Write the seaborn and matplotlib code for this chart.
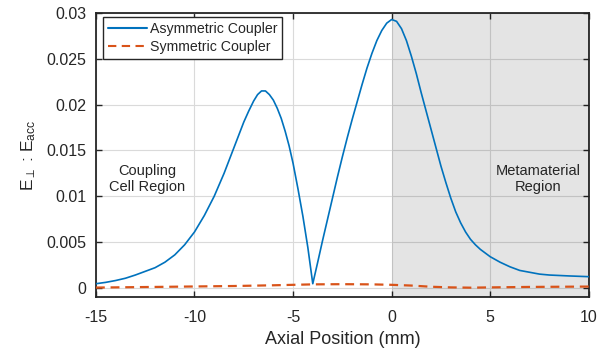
import numpy as np
import pandas as pd
import matplotlib
matplotlib.use("Agg")
import matplotlib.pyplot as plt
import seaborn as sns

# ---- data ----
asym_x = [-15, -14.5, -14, -13.5, -13, -12.5, -12, -11.5, -11, -10.5, -10, -9.5, -9, -8.5,
          -8, -7.5, -7.25, -7.0, -6.8, -6.6, -6.4, -6.2, -6.0, -5.8, -5.6, -5.4, -5.2, -5.0,
          -4.75, -4.5, -4.25, -4.0,
          -3.75, -3.5, -3.25, -3.0, -2.75, -2.5, -2.25, -2.0, -1.75, -1.5, -1.25, -1.0,
          -0.75, -0.5, -0.25, 0.0,
          0.25, 0.5, 0.75, 1.0, 1.25, 1.5, 1.75, 2.0, 2.25, 2.5, 2.75, 3.0, 3.25, 3.5, 3.75,
          4.0, 4.25, 4.5, 5.0, 5.5, 6.0, 6.5, 7.0, 7.5, 8.0, 9.0, 10.0]
asym_y = [0.00045, 0.0006, 0.0008, 0.00105, 0.0014, 0.0018, 0.0022, 0.0028, 0.0036, 0.0047,
          0.0061, 0.0079, 0.0100, 0.0125,
          0.0153, 0.0181, 0.0193, 0.0204, 0.0211, 0.0215, 0.0215, 0.0211, 0.0205, 0.0196,
          0.0185, 0.0171, 0.0155, 0.0136,
          0.0108, 0.0078, 0.0044, 0.00045,
          0.0028, 0.0052, 0.0075, 0.0098, 0.0121, 0.0143, 0.0164, 0.0184, 0.0203, 0.0222,
          0.0240, 0.0256,
          0.0270, 0.0281, 0.0289, 0.0293,
          0.0291, 0.0283, 0.0270, 0.0253, 0.0234, 0.0213, 0.0193, 0.0173, 0.0153, 0.0133,
          0.0115, 0.0098, 0.0083, 0.0071, 0.0061,
          0.0053, 0.0047, 0.0042, 0.0034, 0.0028, 0.0023, 0.0019, 0.0017, 0.0015, 0.0014,
          0.0013, 0.00122]

sym_x = [-15, -12, -10, -8, -6, -4, -2.5, -1, 0, 1, 2, 3, 4, 5, 7, 10]
sym_y = [0.00003, 0.0001, 0.00015, 0.0002, 0.00028, 0.00038, 0.0004, 0.00038, 0.00033,
         0.00025, 0.00012, 0.00005, 0.00002, 0.00005, 0.0001, 0.00014]

series_names = ["Asymmetric Coupler", "Symmetric Coupler"]
x_ticks = [-15, -10, -5, 0, 5, 10]
y_ticks = [0, 0.005, 0.01, 0.015, 0.02, 0.025, 0.03]
y_tick_labels = ["0", "0.005", "0.01", "0.015", "0.02", "0.025", "0.03"]
region_left = "Coupling\nCell Region"
region_right = "Metamaterial\nRegion"

df = pd.concat([
    pd.DataFrame({"x": asym_x, "y": asym_y, "series": series_names[0]}),
    pd.DataFrame({"x": sym_x, "y": sym_y, "series": series_names[1]}),
], ignore_index=True)

sns.set_style("ticks")
plt.rcParams["font.family"] = ["Liberation Sans", "DejaVu Sans"]
plt.rcParams["mathtext.fontset"] = "custom"
plt.rcParams["mathtext.rm"] = "Liberation Sans"
plt.rcParams["mathtext.it"] = "Liberation Sans"

fig = plt.figure(figsize=(6.07, 3.54), dpi=100)
ax = fig.add_axes([0.158, 0.161, 0.812, 0.802])

blue = "#0072BD"
orange = "#D95319"

sns.lineplot(data=df, x="x", y="y", hue="series", style="series",
             palette={series_names[0]: blue, series_names[1]: orange},
             dashes={series_names[0]: "", series_names[1]: (4.0, 2.6)},
             sort=False, estimator=None, ax=ax, zorder=4)
lines = ax.get_lines()
lines[0].set_linewidth(1.2)
lines[1].set_linewidth(1.6)

ax.axvspan(0, 10, facecolor="black", alpha=0.105, lw=0, zorder=2.6)

ax.set_xlim(-15, 10)
ax.set_ylim(-0.001, 0.03)
ax.set_xticks(x_ticks)
ax.set_xticklabels([str(t) for t in x_ticks])
ax.set_yticks(y_ticks)
ax.set_yticklabels(y_tick_labels)
ax.grid(True, color="#DADADA", lw=0.8)
ax.set_axisbelow(True)

for s in ax.spines.values():
    s.set_visible(True)
    s.set_color("#262626")
    s.set_linewidth(1.3)
ax.tick_params(direction="in", top=True, right=True, length=4, width=1.0,
               labelsize=11.5, colors="#262626")
ax.tick_params(axis="x", pad=9)
ax.tick_params(axis="y", pad=7)

ax.set_xlabel("Axial Position (mm)", fontsize=13, color="#262626", labelpad=5)
ax.set_ylabel(r"E$_{\perp}$ : E$_{\mathrm{acc}}$", fontsize=12.5, color="#262626", labelpad=6)

ax.text(-12.4, 0.0119, region_left, ha="center", va="center", fontsize=10.5, color="#262626")
ax.text(7.45, 0.0119, region_right, ha="center", va="center", fontsize=10.5, color="#262626", zorder=5)

h, l = ax.get_legend_handles_labels()
leg = ax.legend(h, l, loc="upper left", bbox_to_anchor=(0.014, 0.986), fontsize=10.2,
                frameon=True, fancybox=False, edgecolor="#262626", framealpha=1,
                handlelength=2.8, handletextpad=0.15, borderpad=0.35, labelspacing=0.3,
                borderaxespad=0)
leg.get_frame().set_linewidth(1.0)
leg.set_zorder(6)

fig.savefig("out.png", dpi=100)
